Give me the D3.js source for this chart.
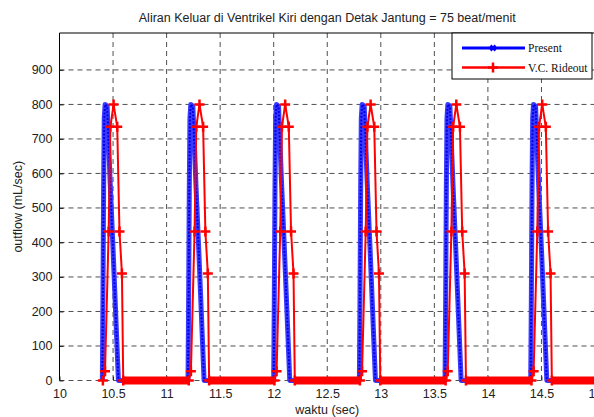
<!DOCTYPE html>
<html>
<head>
<meta charset="utf-8">
<script src="https://cdn.jsdelivr.net/npm/d3@7"></script>
<style>
  body { margin: 0; background: #fff; }
  text { font-family: "Liberation Sans", Arial, sans-serif; }
</style>
</head>
<body>
<div class="plot"></div>
<script>
/* data: [time (sec), outflow (mL/sec)] */
const present = [
  [10.400, 0], [10.406, 250], [10.412, 560], [10.418, 760], [10.426, 800], [10.445, 795], [10.475, 560], [10.500, 380], [10.525, 190], [10.550, 0],
  [11.200, 0], [11.206, 250], [11.212, 560], [11.218, 760], [11.226, 800], [11.245, 795], [11.275, 560], [11.300, 380], [11.325, 190], [11.350, 0],
  [12.000, 0], [12.006, 250], [12.012, 560], [12.018, 760], [12.026, 800], [12.045, 795], [12.075, 560], [12.100, 380], [12.125, 190], [12.150, 0],
  [12.800, 0], [12.806, 250], [12.812, 560], [12.818, 760], [12.826, 800], [12.845, 795], [12.875, 560], [12.900, 380], [12.925, 190], [12.950, 0],
  [13.600, 0], [13.606, 250], [13.612, 560], [13.618, 760], [13.626, 800], [13.645, 795], [13.675, 560], [13.700, 380], [13.725, 190], [13.750, 0],
  [14.400, 0], [14.406, 250], [14.412, 560], [14.418, 760], [14.426, 800], [14.445, 795], [14.475, 560], [14.500, 380], [14.525, 190], [14.550, 0],
  [15.000, 0]
];

const rideout = [
  [10.405, 0], [10.425, 27], [10.459, 432], [10.475, 735], [10.505, 800], [10.539, 735], [10.560, 432], [10.583, 310], [10.595, 0],
  [11.207, 0], [11.227, 27], [11.261, 432], [11.277, 735], [11.307, 800], [11.341, 735], [11.362, 432], [11.385, 310], [11.397, 0],
  [12.007, 0], [12.027, 27], [12.061, 432], [12.077, 735], [12.107, 800], [12.141, 735], [12.162, 432], [12.185, 310], [12.197, 0],
  [12.805, 0], [12.825, 27], [12.859, 432], [12.875, 735], [12.905, 800], [12.939, 735], [12.960, 432], [12.983, 310], [12.995, 0],
  [13.605, 0], [13.625, 27], [13.659, 432], [13.675, 735], [13.705, 800], [13.739, 735], [13.760, 432], [13.783, 310], [13.795, 0],
  [14.407, 0], [14.427, 27], [14.461, 432], [14.477, 735], [14.507, 800], [14.541, 735], [14.562, 432], [14.585, 310], [14.597, 0],
  [15.000, 0]
];

const xTicks = [10, 10.5, 11, 11.5, 12, 12.5, 13, 13.5, 14, 14.5, 15];
const yTicks = [0, 100, 200, 300, 400, 500, 600, 700, 800, 900];

const seriesNames = ["Present", "V.C. Rideout"];
const seriesColors = ["#0000ff", "#ff0000"];

/* svg and margins */
const margin = {top: 33, right: -1, bottom: 36, left: 59.5};
const fullW = 594, fullH = 417;
const width = fullW - margin.left - margin.right;
const height = fullH - margin.top - margin.bottom - 0.5;

const svg = d3.select(".plot").append("svg")
  .attr("width", fullW)
  .attr("height", fullH)
  .append("g")
    .attr("transform", `translate(${margin.left},${margin.top})`);

/* scales */
const xScale = d3.scaleLinear().domain([10, 15]).range([0, width]);
const yScale = d3.scaleLinear().domain([0, 1007]).range([height, 0]);

/* dashed grid */
svg.append("g")
  .selectAll("line")
  .data(xTicks.slice(1, -1))
  .join("line")
    .attr("x1", d => xScale(d)).attr("x2", d => xScale(d))
    .attr("y1", 0).attr("y2", height)
    .attr("stroke", "#222").attr("stroke-width", 0.8)
    .attr("stroke-dasharray", "5,4");

svg.append("g")
  .selectAll("line")
  .data(yTicks)
  .join("line")
    .attr("x1", 0).attr("x2", width)
    .attr("y1", d => yScale(d)).attr("y2", d => yScale(d))
    .attr("stroke", "#222").attr("stroke-width", 0.8)
    .attr("stroke-dasharray", "5,4");

/* axes (MATLAB style ticks pointing inside) */
const xAxis = d3.axisBottom(xScale).tickValues(xTicks).tickSize(-4).tickPadding(9)
  .tickFormat(d3.format("~g"));
const yAxis = d3.axisLeft(yScale).tickValues(yTicks).tickSize(-4).tickPadding(7);

const xGroup = svg.append("g")
  .attr("transform", `translate(0,${height})`)
  .call(xAxis)
  .call(g => g.select(".domain").remove());

const yGroup = svg.append("g")
  .call(yAxis)
  .call(g => g.select(".domain").remove());

svg.selectAll(".tick text")
  .attr("font-size", 12.5)
  .attr("fill", "#222");
svg.selectAll(".tick line").attr("stroke", "#000").attr("stroke-width", 0.8);

/* box */
svg.append("line").attr("x1", 0).attr("x2", 0).attr("y1", 0).attr("y2", height)
  .attr("stroke", "#000").attr("stroke-width", 1);
svg.append("line").attr("x1", 0).attr("x2", width).attr("y1", 0).attr("y2", 0)
  .attr("stroke", "#000").attr("stroke-width", 1);

/* Present curve: dense markers make a thick blue band */
const line = d3.line()
  .x(d => xScale(d[0]))
  .y(d => yScale(d[1]));

svg.append("path")
  .datum(present)
  .attr("d", line)
  .attr("fill", "none")
  .attr("stroke", "#3a3aff")
  .attr("stroke-width", 5)
  .attr("stroke-linejoin", "round");

svg.append("path")
  .datum(present)
  .attr("d", line)
  .attr("fill", "none")
  .attr("stroke", "#0000e6")
  .attr("stroke-width", 2)
  .attr("stroke-dasharray", "2,1.5");

/* V.C. Rideout curve */
const zeroRuns = d3.pairs(rideout).filter(([a, b]) => a[1] === 0 && b[1] === 0);

svg.append("g")
  .selectAll("line")
  .data(zeroRuns)
  .join("line")
    .attr("x1", d => xScale(d[0][0]))
    .attr("x2", d => xScale(d[1][0]))
    .attr("y1", yScale(0)).attr("y2", yScale(0))
    .attr("stroke", "#ff0000")
    .attr("stroke-width", 8);

svg.append("path")
  .datum(rideout)
  .attr("d", line)
  .attr("fill", "none")
  .attr("stroke", "#ff0000")
  .attr("stroke-width", 2);

svg.append("g")
  .selectAll("path")
  .data(rideout.filter(d => d[0] < 15))
  .join("path")
    .attr("transform", d => `translate(${xScale(d[0])},${yScale(d[1])})`)
    .attr("d", "M-5,0H5M0,-5V5")
    .attr("stroke", "#ff0000")
    .attr("stroke-width", 2.5);

/* legend */
const legend = svg.append("g")
  .attr("transform", `translate(${452 - margin.left},0)`);

legend.append("rect")
  .attr("x", 0).attr("y", 0)
  .attr("width", 140).attr("height", 46)
  .attr("fill", "#fff")
  .attr("stroke", "#000")
  .attr("stroke-width", 1);

const items = legend.selectAll(".item")
  .data(seriesNames)
  .join("g")
    .attr("class", "item")
    .attr("transform", (d, i) => `translate(0,${15 + i * 19.5})`);

items.append("line")
  .attr("x1", 10).attr("x2", 73)
  .attr("stroke", (d, i) => seriesColors[i])
  .attr("stroke-width", (d, i) => i === 0 ? 3 : 2.5);

items.append("path")
  .attr("transform", "translate(41,0)")
  .attr("d", (d, i) => i === 0 ? "M-2.5,-2.5L2.5,2.5M-2.5,2.5L2.5,-2.5" : "M-5,0H5M0,-5V5")
  .attr("stroke", (d, i) => seriesColors[i])
  .attr("stroke-width", 2.5);

items.append("text")
  .attr("x", 76)
  .attr("dy", "0.35em")
  .style("font-family", "'Liberation Serif', 'Times New Roman', serif")
  .attr("font-size", 11.5)
  .attr("fill", "#111")
  .text(d => d);

/* titles */
svg.append("text")
  .attr("x", xScale(12.5))
  .attr("y", -11)
  .attr("text-anchor", "middle")
  .attr("font-size", 12.5)
  .attr("fill", "#222")
  .text("Aliran Keluar di Ventrikel Kiri dengan Detak Jantung = 75 beat/menit");

svg.append("text")
  .attr("x", xScale(12.5))
  .attr("y", height + 33)
  .attr("text-anchor", "middle")
  .attr("font-size", 12.5)
  .attr("fill", "#222")
  .text("waktu (sec)");

svg.append("text")
  .attr("transform", `translate(${-38},${height / 2}) rotate(-90)`)
  .attr("text-anchor", "middle")
  .attr("font-size", 12.5)
  .attr("fill", "#222")
  .text("outflow (mL/sec)");
</script>
</body>
</html>
